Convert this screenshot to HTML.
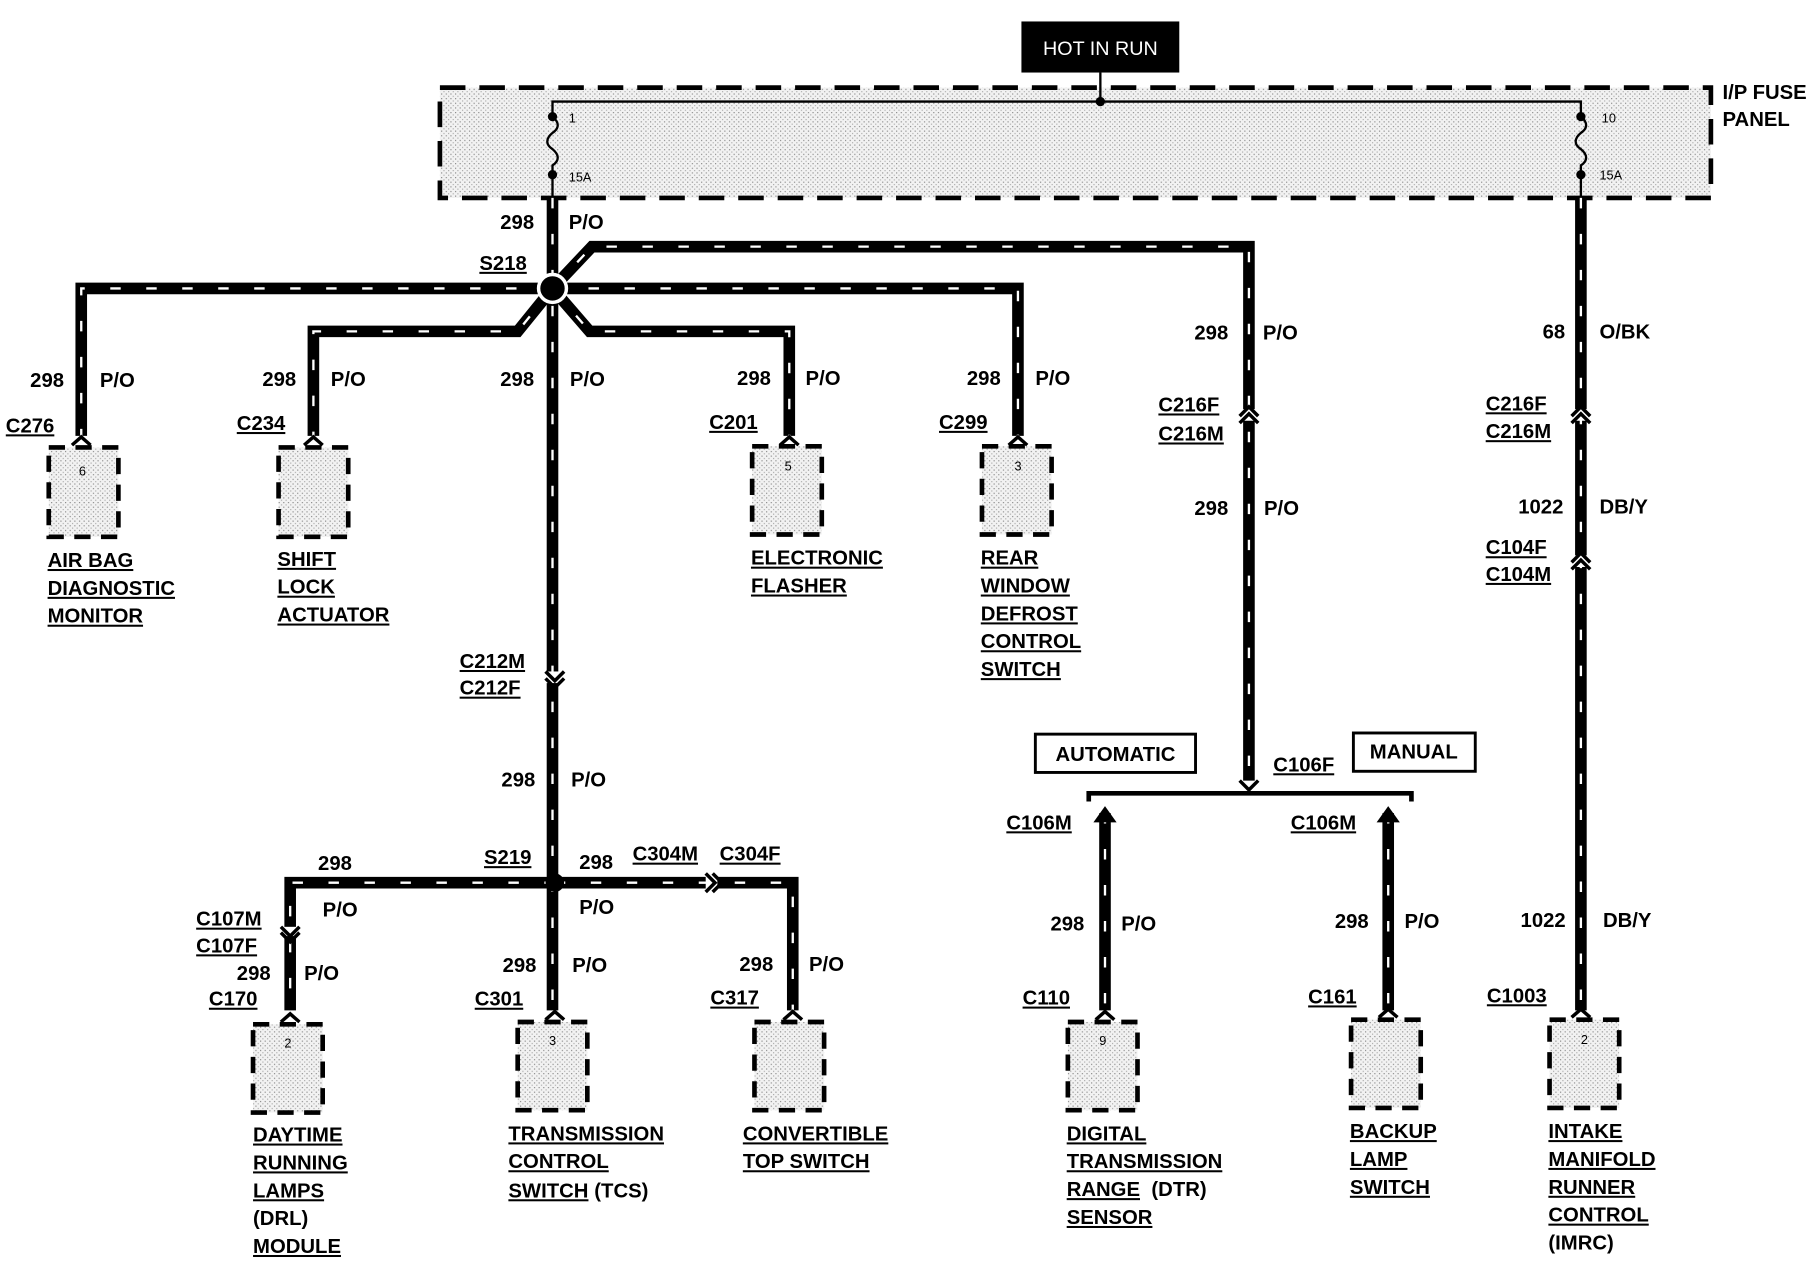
<!DOCTYPE html>
<html><head><meta charset="utf-8"><style>
html,body{margin:0;padding:0;background:#fff;}
svg{display:block;}
text{font-family:"Liberation Sans",Arial,sans-serif;font-weight:bold;font-size:17.5px;fill:#000;}
.u{text-decoration:underline;}
.s{font-size:11px;font-weight:normal;}
.wb{fill:none;stroke:#000;stroke-width:10;stroke-linejoin:miter;}
.wd{fill:none;stroke:#fff;stroke-width:2;stroke-dasharray:9 22;}
</style></head><body>
<svg width="1820" height="1264" viewBox="0 0 1568 1088" xmlns="http://www.w3.org/2000/svg">
<defs>
<pattern id="dots" width="4" height="4" patternUnits="userSpaceOnUse"><rect width="4" height="4" fill="#f2f2f2"/><rect width="1" height="1" fill="#888"/><rect x="2" y="2" width="1" height="1" fill="#aaa"/></pattern>
<path id="p1" d="M476,170 V760 V870"/>
<path id="p2" d="M476,248 H70 V375"/>
<path id="p3" d="M476,248 L446,285 H270 V375"/>
<path id="p4" d="M476,248 L508,285 H680 V375"/>
<path id="p5" d="M476,248 H877 V375"/>
<path id="p6" d="M476,248 L510,212 H1076 V672"/>
<path id="p7" d="M1362,170 V870"/>
<path id="p8" d="M952,700 V870"/>
<path id="p9" d="M1196,700 V870"/>
<path id="p10" d="M478,760 H250 V870"/>
<path id="p11" d="M478,760 H683 V870"/>
</defs>
<rect x="880" y="18" width="136" height="44" fill="#000"/>
<text x="948" y="47" text-anchor="middle" style="fill:#fff;font-weight:normal;font-size:17px">HOT IN RUN</text>
<rect x="379" y="75" width="1095" height="95" fill="url(#dots)" stroke="#000" stroke-width="4" stroke-dasharray="22 12"/>
<text x="1484" y="85">I/P FUSE</text>
<text x="1484" y="108">PANEL</text>
<line x1="948" y1="62" x2="948" y2="87" stroke="#000" stroke-width="2"/>
<path d="M476,100 V87 H1362 V100" fill="none" stroke="#000" stroke-width="2"/>
<circle cx="948" cy="87" r="4"/>
<path d="M476,100 c6,5 6,10 0,14 c-6,5 -6,10 0,14 c6,5 6,10 0,14 V170" fill="none" stroke="#000" stroke-width="2"/>
<path d="M1362,100 c6,5 6,10 0,14 c-6,5 -6,10 0,14 c6,5 6,10 0,14 V170" fill="none" stroke="#000" stroke-width="2"/>
<circle cx="476" cy="100" r="4"/><circle cx="476" cy="150" r="4"/>
<circle cx="1362" cy="100" r="4"/><circle cx="1362" cy="150" r="4"/>
<text class="s" x="490" y="105">1</text><text class="s" x="490" y="156">15A</text>
<text class="s" x="1380" y="105">10</text><text class="s" x="1378" y="154">15A</text>
<g class="wb"><use href="#p1"/><use href="#p2"/><use href="#p3"/><use href="#p4"/><use href="#p5"/><use href="#p6"/><use href="#p7"/><use href="#p8"/><use href="#p9"/><use href="#p10"/><use href="#p11"/></g>
<g class="wd"><use href="#p1"/><use href="#p2"/><use href="#p3"/><use href="#p4"/><use href="#p5"/><use href="#p6"/><use href="#p7"/><use href="#p8"/><use href="#p9"/><use href="#p10"/><use href="#p11"/></g>
<circle cx="476" cy="248" r="12" fill="#000" stroke="#fff" stroke-width="3"/>
<circle cx="478" cy="760" r="8" fill="#000"/>
<g fill="#fff" stroke="none">
<rect x="1068" y="352" width="16" height="10"/><rect x="1354" y="352" width="16" height="10"/><rect x="1354" y="478" width="16" height="10"/>
<rect x="470" y="578" width="16" height="10"/><rect x="242" y="798" width="16" height="8"/><rect x="608" y="752" width="10" height="16"/>
</g>
<g fill="none" stroke="#000" stroke-width="3">
<path d="M1068,364 L1076,356 L1084,364"/><path d="M1068,358 L1076,350 L1084,358"/>
<path d="M1354,364 L1362,356 L1370,364"/><path d="M1354,358 L1362,350 L1370,358"/>
<path d="M1354,490 L1362,482 L1370,490"/><path d="M1354,484 L1362,476 L1370,484"/>
<path d="M470,578 L478,586 L486,578"/><path d="M470,584 L478,592 L486,584"/>
<path d="M242,798 L250,806 L258,798"/><path d="M242,803 L250,811 L258,803"/>
<path d="M608,752 L616,760 L608,768"/><path d="M614,752 L622,760 L614,768"/>
</g>
<path d="M938,690 V683 H1216 V690" fill="none" stroke="#000" stroke-width="4"/>
<path d="M1068,672 L1076,680 L1084,672" fill="none" stroke="#000" stroke-width="3"/>
<polygon points="942,708 952,694 962,708"/><polygon points="1186,708 1196,694 1206,708"/>
<rect x="892" y="632" width="138" height="33" fill="none" stroke="#000" stroke-width="2.5"/>
<text x="961" y="655" text-anchor="middle">AUTOMATIC</text>
<rect x="1166" y="631" width="105" height="33" fill="none" stroke="#000" stroke-width="2.5"/>
<text x="1218" y="653" text-anchor="middle">MANUAL</text>
<g fill="none" stroke="#000" stroke-width="3">
<path d="M62,383 L70,376 L78,383"/><path d="M262,383 L270,376 L278,383"/><path d="M672,383 L680,376 L688,383"/><path d="M869,383 L877,376 L885,383"/>
<path d="M944,878 L952,871 L960,878"/><path d="M1188,876 L1196,869 L1204,876"/><path d="M1354,876 L1362,869 L1370,876"/>
<path d="M242,880 L250,873 L258,880"/><path d="M470,878 L478,871 L486,878"/><path d="M675,878 L683,871 L691,878"/>
</g>
<g fill="url(#dots)" stroke="#000" stroke-width="4" stroke-dasharray="14 9">
<rect x="42" y="385" width="60" height="77"/><rect x="240" y="385" width="60" height="77"/>
<rect x="648" y="384" width="60" height="76"/><rect x="846" y="384" width="60" height="76"/>
<rect x="218" y="882" width="60" height="76"/><rect x="446" y="880" width="60" height="76"/><rect x="650" y="880" width="60" height="76"/>
<rect x="920" y="880" width="60" height="76"/><rect x="1164" y="878" width="60" height="76"/><rect x="1335" y="878" width="60" height="76"/>
</g>
<text class="s" x="68" y="409">6</text><text class="s" x="676" y="405">5</text><text class="s" x="874" y="405">3</text>
<text class="s" x="245" y="902">2</text><text class="s" x="473" y="900">3</text><text class="s" x="947" y="900">9</text><text class="s" x="1362" y="899">2</text>
<text x="431" y="197">298</text><text x="490" y="197">P/O</text>
<text class="u" x="413" y="232">S218</text>
<text x="26" y="333">298</text><text x="86" y="333">P/O</text>
<text x="226" y="332">298</text><text x="285" y="332">P/O</text>
<text x="431" y="332">298</text><text x="491" y="332">P/O</text>
<text x="635" y="331">298</text><text x="694" y="331">P/O</text>
<text x="833" y="331">298</text><text x="892" y="331">P/O</text>
<text x="1029" y="292">298</text><text x="1088" y="292">P/O</text>
<text x="1329" y="291">68</text><text x="1378" y="291">O/BK</text>
<text class="u" x="5" y="372">C276</text><text class="u" x="204" y="370">C234</text>
<text class="u" x="611" y="369">C201</text><text class="u" x="809" y="369">C299</text>
<text class="u" x="998" y="354">C216F</text><text class="u" x="998" y="379">C216M</text>
<text class="u" x="1280" y="353">C216F</text><text class="u" x="1280" y="377">C216M</text>
<text x="1029" y="443">298</text><text x="1089" y="443">P/O</text>
<text x="1308" y="442">1022</text><text x="1378" y="442">DB/Y</text>
<text class="u" x="1280" y="477">C104F</text><text class="u" x="1280" y="500">C104M</text>
<text class="u" x="396" y="575">C212M</text><text class="u" x="396" y="598">C212F</text>
<text x="432" y="677">298</text><text x="492" y="677">P/O</text>
<text class="u" x="1097" y="664">C106F</text>
<text class="u" x="867" y="714">C106M</text><text class="u" x="1112" y="714">C106M</text>
<text x="274" y="749">298</text><text class="u" x="417" y="744">S219</text><text x="499" y="748">298</text>
<text class="u" x="545" y="741">C304M</text><text class="u" x="620" y="741">C304F</text>
<text x="278" y="789">P/O</text><text x="499" y="787">P/O</text>
<text class="u" x="169" y="797">C107M</text><text class="u" x="169" y="820">C107F</text>
<text x="204" y="844">298</text><text x="262" y="844">P/O</text>
<text class="u" x="180" y="866">C170</text>
<text x="433" y="837">298</text><text x="493" y="837">P/O</text><text class="u" x="409" y="866">C301</text>
<text x="637" y="836">298</text><text x="697" y="836">P/O</text><text class="u" x="612" y="865">C317</text>
<text x="905" y="801">298</text><text x="966" y="801">P/O</text><text class="u" x="881" y="865">C110</text>
<text x="1150" y="799">298</text><text x="1210" y="799">P/O</text><text class="u" x="1127" y="864">C161</text>
<text x="1310" y="798">1022</text><text x="1381" y="798">DB/Y</text><text class="u" x="1281" y="863">C1003</text>
<g class="u">
<text x="41" y="488">AIR BAG</text><text x="41" y="512">DIAGNOSTIC</text><text x="41" y="536">MONITOR</text>
<text x="239" y="487">SHIFT</text><text x="239" y="511">LOCK</text><text x="239" y="535">ACTUATOR</text>
<text x="647" y="486">ELECTRONIC</text><text x="647" y="510">FLASHER</text>
<text x="845" y="486">REAR</text><text x="845" y="510">WINDOW</text><text x="845" y="534">DEFROST</text><text x="845" y="558">CONTROL</text><text x="845" y="582">SWITCH</text>
<text x="218" y="983">DAYTIME</text><text x="218" y="1007">RUNNING</text><text x="218" y="1031">LAMPS</text><text x="218" y="1079">MODULE</text>
<text x="438" y="982">TRANSMISSION</text><text x="438" y="1006">CONTROL</text><text x="438" y="1031">SWITCH</text>
<text x="640" y="982">CONVERTIBLE</text><text x="640" y="1006">TOP SWITCH</text>
<text x="919" y="982">DIGITAL</text><text x="919" y="1006">TRANSMISSION</text><text x="919" y="1030">RANGE</text><text x="919" y="1054">SENSOR</text>
<text x="1163" y="980">BACKUP</text><text x="1163" y="1004">LAMP</text><text x="1163" y="1028">SWITCH</text>
<text x="1334" y="980">INTAKE</text><text x="1334" y="1004">MANIFOLD</text><text x="1334" y="1028">RUNNER</text><text x="1334" y="1052">CONTROL</text>
</g>
<text x="218" y="1055">(DRL)</text><text x="512" y="1031">(TCS)</text><text x="992" y="1030">(DTR)</text><text x="1334" y="1076">(IMRC)</text>
</svg>
</body></html>
